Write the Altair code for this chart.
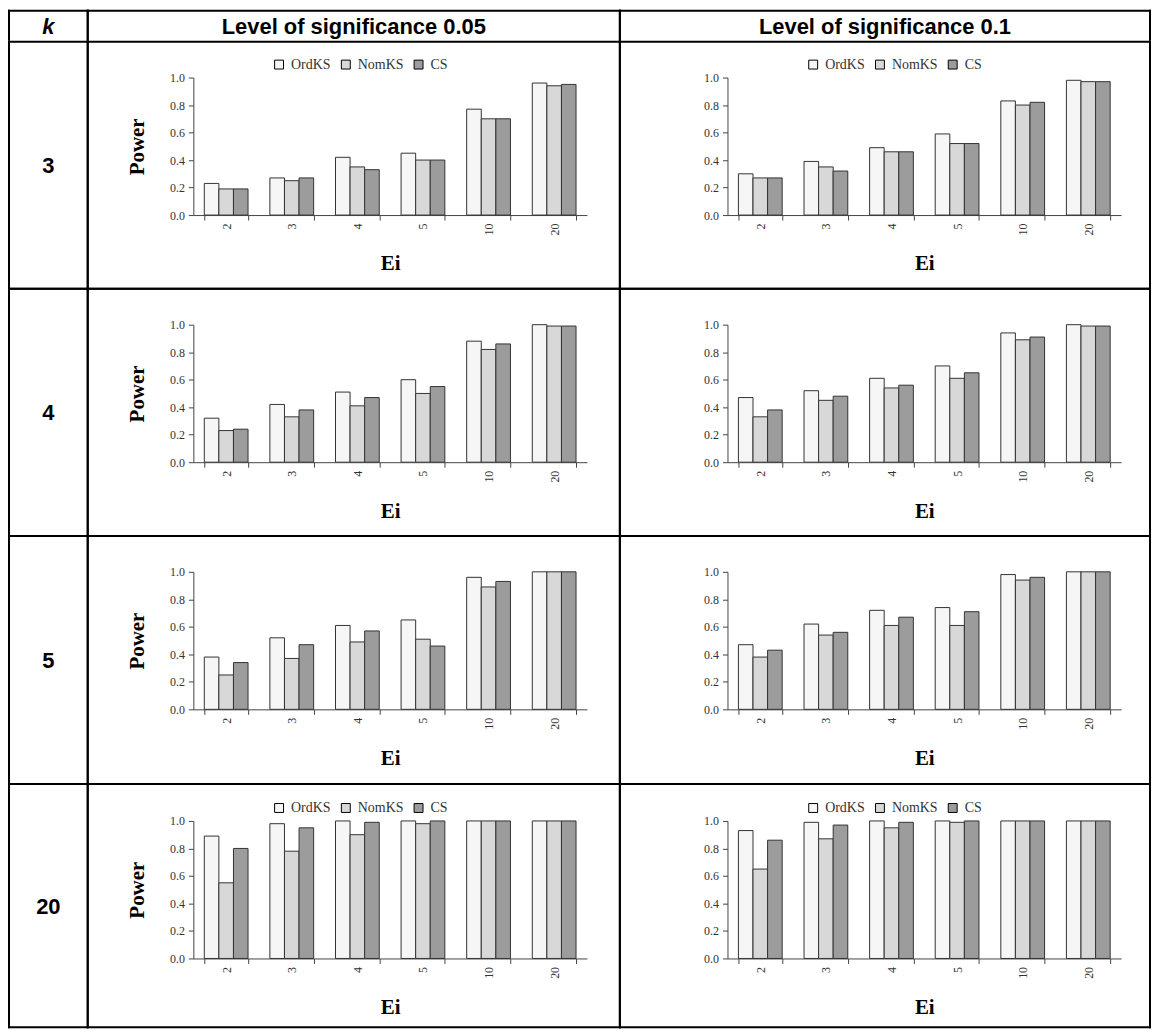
import altair as alt
import pandas as pd

ei_labels = ["2", "3", "4", "5", "10", "20"]
tests = ["OrdKS", "NomKS", "CS"]
k_labels = ["3", "4", "5", "20"]
header_k = "k"
alpha_titles = ["Level of significance 0.05", "Level of significance 0.1"]

# k = 3
k3_a05 = {"OrdKS": [0.23, 0.27, 0.42, 0.45, 0.77, 0.96],
          "NomKS": [0.19, 0.25, 0.35, 0.40, 0.70, 0.94],
          "CS":    [0.19, 0.27, 0.33, 0.40, 0.70, 0.95]}
k3_a10 = {"OrdKS": [0.30, 0.39, 0.49, 0.59, 0.83, 0.98],
          "NomKS": [0.27, 0.35, 0.46, 0.52, 0.80, 0.97],
          "CS":    [0.27, 0.32, 0.46, 0.52, 0.82, 0.97]}
# k = 4
k4_a05 = {"OrdKS": [0.32, 0.42, 0.51, 0.60, 0.88, 1.00],
          "NomKS": [0.23, 0.33, 0.41, 0.50, 0.82, 0.99],
          "CS":    [0.24, 0.38, 0.47, 0.55, 0.86, 0.99]}
k4_a10 = {"OrdKS": [0.47, 0.52, 0.61, 0.70, 0.94, 1.00],
          "NomKS": [0.33, 0.45, 0.54, 0.61, 0.89, 0.99],
          "CS":    [0.38, 0.48, 0.56, 0.65, 0.91, 0.99]}
# k = 5
k5_a05 = {"OrdKS": [0.38, 0.52, 0.61, 0.65, 0.96, 1.00],
          "NomKS": [0.25, 0.37, 0.49, 0.51, 0.89, 1.00],
          "CS":    [0.34, 0.47, 0.57, 0.46, 0.93, 1.00]}
k5_a10 = {"OrdKS": [0.47, 0.62, 0.72, 0.74, 0.98, 1.00],
          "NomKS": [0.38, 0.54, 0.61, 0.61, 0.94, 1.00],
          "CS":    [0.43, 0.56, 0.67, 0.71, 0.96, 1.00]}
# k = 20
k20_a05 = {"OrdKS": [0.89, 0.98, 1.00, 1.00, 1.00, 1.00],
           "NomKS": [0.55, 0.78, 0.90, 0.98, 1.00, 1.00],
           "CS":    [0.80, 0.95, 0.99, 1.00, 1.00, 1.00]}
k20_a10 = {"OrdKS": [0.93, 0.99, 1.00, 1.00, 1.00, 1.00],
           "NomKS": [0.65, 0.87, 0.95, 0.99, 1.00, 1.00],
           "CS":    [0.86, 0.97, 0.99, 1.00, 1.00, 1.00]}

fills = ["#f6f6f6", "#d8d8d8", "#9c9c9c"]

SERIF = "Liberation Serif"
SANS = "Liberation Sans"
PW, PH = 395, 138              # plot area of each small chart
LW = 2                         # table line width
COL_W = [81, 536, 534]         # cell box widths (boxes overlap by LW)
COL_LEFT = [0, 107, 109]       # plot left offset from box left
HEADER_H = 33
ROW_H = [250, 250, 251, 246]
ROW_TOP = [37, 37, 37, 38]     # plot top offset from box top


def hbar(x0, x1, y):
    return alt.Chart(pd.DataFrame({"c": [0]})).mark_rect(color="#000000").encode(
        x=alt.value(x0), x2=alt.value(x1), y=alt.value(y), y2=alt.value(y + LW))


def vbar(x, y0, y1):
    return alt.Chart(pd.DataFrame({"c": [0]})).mark_rect(color="#000000").encode(
        x=alt.value(x), x2=alt.value(x + LW), y=alt.value(y0), y2=alt.value(y1))


def label(text, x, y, italic=False):
    kw = dict(font=SANS, fontSize=22, fontWeight="bold", align="center",
              baseline="middle", color="#000000")
    if italic:
        kw["fontStyle"] = "italic"
    return alt.Chart(pd.DataFrame({"t": [text]})).mark_text(**kw).encode(
        x=alt.value(x), y=alt.value(y), text="t:N")


def frame(col, r, header_text=None, italic=False):
    """Border lines (and header text for the first row) around a cell,
    in coordinates relative to the cell's plot origin."""
    x0 = -COL_LEFT[col]
    x1 = x0 + COL_W[col]
    top = -ROW_TOP[r]
    bottom = top + ROW_H[r]
    layers = [hbar(x0, x1, bottom - LW), vbar(x0, top, bottom), vbar(x1 - LW, top, bottom)]
    if r == 0:
        htop = top - HEADER_H + LW
        layers += [hbar(x0, x1, htop), hbar(x0, x1, top),
                   vbar(x0, htop, top), vbar(x1 - LW, htop, top),
                   label(header_text, (x0 + x1) / 2, htop + HEADER_H / 2 + 1, italic)]
    else:
        layers.append(hbar(x0, x1, top))
    return layers


def k_cell(r):
    w = COL_W[0]
    return alt.layer(
        label(k_labels[r], w / 2, -ROW_TOP[r] + ROW_H[r] / 2 + 1),
        *frame(0, r, header_k, italic=True),
    ).properties(width=w, height=PH)


def panel(values, col, r, show_legend, show_ytitle):
    recs = []
    for i, e in enumerate(ei_labels):
        for t in tests:
            recs.append({"Ei": e, "Test": t, "Power": values[t][i]})
    df = pd.DataFrame(recs)

    if show_legend:
        leg = alt.Legend(orient="none", legendX=79, legendY=-20,
                         direction="horizontal", title=None,
                         symbolType="square", symbolSize=80,
                         symbolStrokeColor="#000000", symbolStrokeWidth=1,
                         labelFont=SERIF, labelFontSize=14, labelColor="#333333",
                         columnPadding=8, labelOffset=5, padding=0)
    else:
        leg = None

    yaxis_kw = dict(values=[0, 0.2, 0.4, 0.6, 0.8, 1.0], format=".1f", grid=False,
                    tickSize=5, labelPadding=4, domainColor="#444444",
                    tickColor="#444444", labelFont=SERIF, labelFontSize=12,
                    labelColor="#333333")
    if show_ytitle:
        yaxis_kw.update(title="Power", titleX=-56, titleY=PH / 2, titleAngle=270,
                        titleAlign="center", titleBaseline="middle",
                        titleFont=SERIF, titleFontSize=21, titleFontWeight="bold",
                        titleColor="#000000")
    else:
        yaxis_kw.update(title=None)

    bars = alt.Chart(df).mark_bar(stroke="#333333", strokeWidth=1).encode(
        x=alt.X("Ei:N", sort=ei_labels,
                scale=alt.Scale(domain=ei_labels, paddingInner=0.333, paddingOuter=0.1667),
                axis=alt.Axis(labelAngle=270, tickBand="extent", tickSize=5,
                              labelPadding=3, domainColor="#444444",
                              tickColor="#444444", labelFont=SERIF, labelFontSize=12,
                              labelColor="#333333", title="Ei", titleX=PW / 2,
                              titleY=49, titleBaseline="middle", titleFont=SERIF,
                              titleFontSize=21, titleFontWeight="bold",
                              titleColor="#000000")),
        xOffset=alt.XOffset("Test:N", sort=tests,
                            scale=alt.Scale(domain=tests, paddingInner=0, paddingOuter=0)),
        y=alt.Y("Power:Q", scale=alt.Scale(domain=[0, 1], nice=False),
                axis=alt.Axis(**yaxis_kw)),
        color=alt.Color("Test:N", sort=tests,
                        scale=alt.Scale(domain=tests, range=fills), legend=leg),
    )
    return alt.layer(bars, *frame(col, r, alpha_titles[col - 1])).properties(
        width=PW, height=PH)


panel_values = [(k3_a05, k3_a10), (k4_a05, k4_a10), (k5_a05, k5_a10), (k20_a05, k20_a10)]
legend_rows = [True, False, False, True]

rows = []
for r in range(len(k_labels)):
    a05, a10 = panel_values[r]
    row = alt.hconcat(
        k_cell(r),
        panel(a05, 1, r, legend_rows[r], True),
        panel(a10, 2, r, legend_rows[r], False),
        spacing=-LW,
    ).resolve_scale(color="independent").resolve_legend(color="independent")
    rows.append(row)

chart = alt.vconcat(*rows, spacing=-LW).resolve_scale(
    color="independent").resolve_legend(color="independent").configure_view(
    strokeWidth=0).properties(padding=0)

chart.save("out.html", embed_options={"renderer": "svg", "actions": False})
